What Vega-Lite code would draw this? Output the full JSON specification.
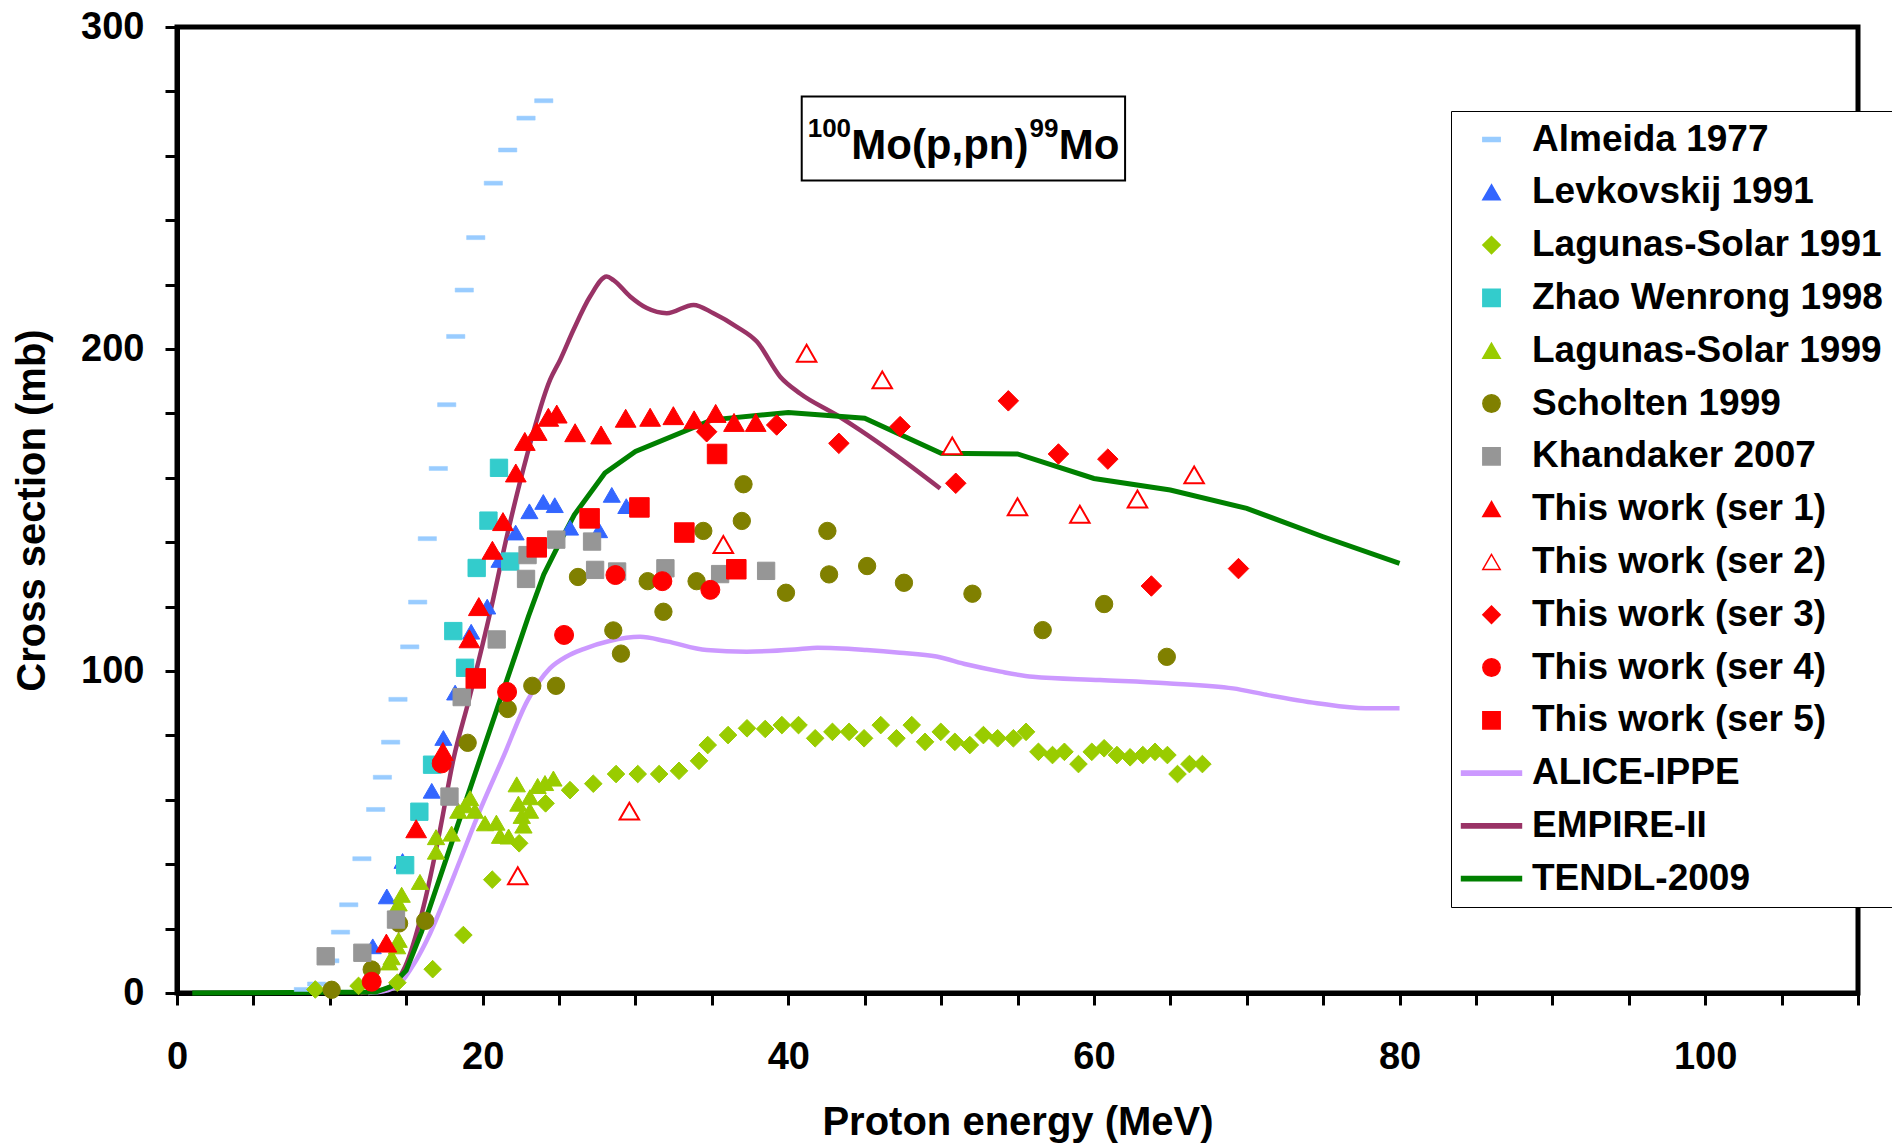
{
  "$schema": "https://vega.github.io/schema/vega-lite/v6.json",
  "width": 1681,
  "height": 966,
  "autosize": {"type": "none"},
  "padding": {"left": 177, "top": 27, "right": 34, "bottom": 154},
  "background": "white",
  "config": {
    "font": "Liberation Sans",
    "view": {"stroke": "black", "strokeWidth": 5},
    "axis": {
      "grid": false,
      "domainColor": "black",
      "domainWidth": 5,
      "tickColor": "black",
      "tickWidth": 3,
      "tickSize": 12,
      "labelFont": "Liberation Sans",
      "labelFontWeight": "bold",
      "labelFontSize": 38,
      "labelColor": "black",
      "labelFlush": false,
      "labelOverlap": false,
      "titleFont": "Liberation Sans",
      "titleFontWeight": "bold",
      "titleFontSize": 40,
      "titleColor": "black"
    }
  },
  "datasets": {
    "main": [
      {"s":"Almeida 1977","e":24.0,"xs":277.1},{"s":"Almeida 1977","e":22.84,"xs":271.7},{"s":"Almeida 1977","e":21.64,"xs":261.8},{"s":"Almeida 1977","e":20.7,"xs":251.5},{"s":"Almeida 1977","e":19.55,"xs":234.6},{"s":"Almeida 1977","e":18.8,"xs":218.3},{"s":"Almeida 1977","e":18.24,"xs":203.9},{"s":"Almeida 1977","e":17.65,"xs":182.7},{"s":"Almeida 1977","e":17.1,"xs":162.9},{"s":"Almeida 1977","e":16.38,"xs":141.1},{"s":"Almeida 1977","e":15.75,"xs":121.4},{"s":"Almeida 1977","e":15.23,"xs":107.5},{"s":"Almeida 1977","e":14.46,"xs":91.2},{"s":"Almeida 1977","e":13.98,"xs":77.9},{"s":"Almeida 1977","e":13.44,"xs":67.0},{"s":"Almeida 1977","e":13.0,"xs":57.0},{"s":"Almeida 1977","e":12.1,"xs":41.7},{"s":"Almeida 1977","e":11.24,"xs":27.4},{"s":"Almeida 1977","e":10.7,"xs":18.9},{"s":"Almeida 1977","e":10.0,"xs":10.0},{"s":"Almeida 1977","e":9.14,"xs":2.8},{"s":"Almeida 1977","e":8.27,"xs":1.1},
      {"s":"Levkovskij 1991","e":12.81,"xs":14.5},{"s":"Levkovskij 1991","e":13.73,"xs":30},{"s":"Levkovskij 1991","e":14.76,"xs":41},{"s":"Levkovskij 1991","e":16.67,"xs":62.8},{"s":"Levkovskij 1991","e":17.43,"xs":79.2},{"s":"Levkovskij 1991","e":18.2,"xs":93.3},{"s":"Levkovskij 1991","e":19.25,"xs":112.2},{"s":"Levkovskij 1991","e":20.3,"xs":120},{"s":"Levkovskij 1991","e":21.1,"xs":134.5},{"s":"Levkovskij 1991","e":22.16,"xs":143},{"s":"Levkovskij 1991","e":23.06,"xs":149.6},{"s":"Levkovskij 1991","e":23.97,"xs":152.5},{"s":"Levkovskij 1991","e":24.72,"xs":151.5},{"s":"Levkovskij 1991","e":25.72,"xs":144.5},{"s":"Levkovskij 1991","e":27.62,"xs":143.7},{"s":"Levkovskij 1991","e":28.45,"xs":154.7},{"s":"Levkovskij 1991","e":29.4,"xs":151.2},
      {"s":"Lagunas-Solar 1991","e":9.05,"xs":1.1},{"s":"Lagunas-Solar 1991","e":11.88,"xs":2.2},{"s":"Lagunas-Solar 1991","e":14.42,"xs":3.2},{"s":"Lagunas-Solar 1991","e":16.73,"xs":7.4},{"s":"Lagunas-Solar 1991","e":18.74,"xs":18},{"s":"Lagunas-Solar 1991","e":20.63,"xs":35.2},{"s":"Lagunas-Solar 1991","e":22.39,"xs":46.5},{"s":"Lagunas-Solar 1991","e":24.12,"xs":58.9},{"s":"Lagunas-Solar 1991","e":25.72,"xs":63},{"s":"Lagunas-Solar 1991","e":27.24,"xs":65},{"s":"Lagunas-Solar 1991","e":28.73,"xs":68},{"s":"Lagunas-Solar 1991","e":30.15,"xs":68},{"s":"Lagunas-Solar 1991","e":31.55,"xs":68},{"s":"Lagunas-Solar 1991","e":32.85,"xs":69},{"s":"Lagunas-Solar 1991","e":34.16,"xs":72.1},{"s":"Lagunas-Solar 1991","e":34.73,"xs":77},{"s":"Lagunas-Solar 1991","e":36.06,"xs":80.1},{"s":"Lagunas-Solar 1991","e":37.3,"xs":82.2},{"s":"Lagunas-Solar 1991","e":38.49,"xs":82},{"s":"Lagunas-Solar 1991","e":39.58,"xs":83.2},{"s":"Lagunas-Solar 1991","e":40.67,"xs":83.2},{"s":"Lagunas-Solar 1991","e":41.76,"xs":79.1},{"s":"Lagunas-Solar 1991","e":42.89,"xs":81.1},{"s":"Lagunas-Solar 1991","e":43.98,"xs":81.1},{"s":"Lagunas-Solar 1991","e":44.96,"xs":79.1},{"s":"Lagunas-Solar 1991","e":46.05,"xs":83.2},{"s":"Lagunas-Solar 1991","e":47.08,"xs":79.1},{"s":"Lagunas-Solar 1991","e":48.08,"xs":83.2},{"s":"Lagunas-Solar 1991","e":48.95,"xs":78},{"s":"Lagunas-Solar 1991","e":49.98,"xs":81.1},{"s":"Lagunas-Solar 1991","e":50.9,"xs":78},{"s":"Lagunas-Solar 1991","e":51.88,"xs":77},{"s":"Lagunas-Solar 1991","e":52.77,"xs":80.1},{"s":"Lagunas-Solar 1991","e":53.7,"xs":79.1},{"s":"Lagunas-Solar 1991","e":54.73,"xs":79.1},{"s":"Lagunas-Solar 1991","e":55.56,"xs":81.1},{"s":"Lagunas-Solar 1991","e":56.37,"xs":74.9},{"s":"Lagunas-Solar 1991","e":57.29,"xs":73.9},{"s":"Lagunas-Solar 1991","e":58.07,"xs":74.9},{"s":"Lagunas-Solar 1991","e":58.99,"xs":71.1},{"s":"Lagunas-Solar 1991","e":59.86,"xs":74.9},{"s":"Lagunas-Solar 1991","e":60.67,"xs":76},{"s":"Lagunas-Solar 1991","e":61.51,"xs":73.9},{"s":"Lagunas-Solar 1991","e":62.37,"xs":73.2},{"s":"Lagunas-Solar 1991","e":63.2,"xs":73.9},{"s":"Lagunas-Solar 1991","e":64.0,"xs":74.9},{"s":"Lagunas-Solar 1991","e":64.81,"xs":73.9},{"s":"Lagunas-Solar 1991","e":65.47,"xs":68},{"s":"Lagunas-Solar 1991","e":66.25,"xs":71.1},{"s":"Lagunas-Solar 1991","e":67.1,"xs":71.1},
      {"s":"Zhao Wenrong 1998","e":14.93,"xs":39.7},{"s":"Zhao Wenrong 1998","e":15.86,"xs":56.3},{"s":"Zhao Wenrong 1998","e":16.69,"xs":70.9},{"s":"Zhao Wenrong 1998","e":18.08,"xs":112.4},{"s":"Zhao Wenrong 1998","e":18.85,"xs":101},{"s":"Zhao Wenrong 1998","e":19.61,"xs":132},{"s":"Zhao Wenrong 1998","e":20.38,"xs":146.7},{"s":"Zhao Wenrong 1998","e":21.07,"xs":163.1},{"s":"Zhao Wenrong 1998","e":21.8,"xs":134},
      {"s":"Lagunas-Solar 1999","e":13.9,"xs":9.5},{"s":"Lagunas-Solar 1999","e":14.05,"xs":11.1},{"s":"Lagunas-Solar 1999","e":14.4,"xs":14.5},{"s":"Lagunas-Solar 1999","e":14.5,"xs":16.5},{"s":"Lagunas-Solar 1999","e":14.5,"xs":27.8},{"s":"Lagunas-Solar 1999","e":14.7,"xs":30.5},{"s":"Lagunas-Solar 1999","e":15.9,"xs":34.5},{"s":"Lagunas-Solar 1999","e":16.95,"xs":43.9},{"s":"Lagunas-Solar 1999","e":16.95,"xs":48.4},{"s":"Lagunas-Solar 1999","e":17.97,"xs":49.5},{"s":"Lagunas-Solar 1999","e":18.41,"xs":56.6},{"s":"Lagunas-Solar 1999","e":18.85,"xs":58.3},{"s":"Lagunas-Solar 1999","e":19.18,"xs":60.5},{"s":"Lagunas-Solar 1999","e":19.5,"xs":56.6},{"s":"Lagunas-Solar 1999","e":20.16,"xs":52.7},{"s":"Lagunas-Solar 1999","e":20.9,"xs":52.9},{"s":"Lagunas-Solar 1999","e":21.14,"xs":48.8},{"s":"Lagunas-Solar 1999","e":21.7,"xs":48.6},{"s":"Lagunas-Solar 1999","e":22.23,"xs":64.8},{"s":"Lagunas-Solar 1999","e":22.34,"xs":58.8},{"s":"Lagunas-Solar 1999","e":22.56,"xs":55},{"s":"Lagunas-Solar 1999","e":22.67,"xs":52},{"s":"Lagunas-Solar 1999","e":23.1,"xs":60.8},{"s":"Lagunas-Solar 1999","e":23.1,"xs":56.6},{"s":"Lagunas-Solar 1999","e":23.6,"xs":64.3},{"s":"Lagunas-Solar 1999","e":24.08,"xs":65.2},{"s":"Lagunas-Solar 1999","e":24.63,"xs":66.6},
      {"s":"Scholten 1999","e":10.12,"xs":1},{"s":"Scholten 1999","e":12.74,"xs":7.3},{"s":"Scholten 1999","e":14.53,"xs":21.6},{"s":"Scholten 1999","e":16.24,"xs":22.4},{"s":"Scholten 1999","e":19.02,"xs":77.7},{"s":"Scholten 1999","e":21.64,"xs":88.2},{"s":"Scholten 1999","e":23.25,"xs":95.4},{"s":"Scholten 1999","e":24.8,"xs":95.4},{"s":"Scholten 1999","e":26.24,"xs":129.2},{"s":"Scholten 1999","e":28.55,"xs":112.6},{"s":"Scholten 1999","e":29.05,"xs":105.4},{"s":"Scholten 1999","e":30.8,"xs":127.9},{"s":"Scholten 1999","e":31.83,"xs":118.4},{"s":"Scholten 1999","e":34.0,"xs":127.9},{"s":"Scholten 1999","e":34.44,"xs":143.5},{"s":"Scholten 1999","e":36.96,"xs":146.6},{"s":"Scholten 1999","e":37.07,"xs":158},{"s":"Scholten 1999","e":39.85,"xs":124.3},{"s":"Scholten 1999","e":42.56,"xs":143.5},{"s":"Scholten 1999","e":42.67,"xs":130},{"s":"Scholten 1999","e":45.16,"xs":132.6},{"s":"Scholten 1999","e":47.57,"xs":127.4},{"s":"Scholten 1999","e":52.05,"xs":124},{"s":"Scholten 1999","e":56.65,"xs":112.7},{"s":"Scholten 1999","e":60.67,"xs":120.8},{"s":"Scholten 1999","e":64.77,"xs":104.4},
      {"s":"Khandaker 2007","e":9.73,"xs":11.4},{"s":"Khandaker 2007","e":12.13,"xs":12.5},{"s":"Khandaker 2007","e":14.33,"xs":22.8},{"s":"Khandaker 2007","e":17.83,"xs":61},{"s":"Khandaker 2007","e":18.63,"xs":91.9},{"s":"Khandaker 2007","e":20.92,"xs":109.8},{"s":"Khandaker 2007","e":22.84,"xs":128.6},{"s":"Khandaker 2007","e":22.94,"xs":136},{"s":"Khandaker 2007","e":24.82,"xs":140.8},{"s":"Khandaker 2007","e":27.16,"xs":140.2},{"s":"Khandaker 2007","e":27.36,"xs":131.4},{"s":"Khandaker 2007","e":28.8,"xs":130.9},{"s":"Khandaker 2007","e":31.96,"xs":131.9},{"s":"Khandaker 2007","e":35.54,"xs":130.1},{"s":"Khandaker 2007","e":38.55,"xs":131.1},
      {"s":"This work (ser 1)","e":13.7,"xs":15.5},{"s":"This work (ser 1)","e":15.65,"xs":51},{"s":"This work (ser 1)","e":17.4,"xs":75},{"s":"This work (ser 1)","e":19.13,"xs":110},{"s":"This work (ser 1)","e":19.75,"xs":120},{"s":"This work (ser 1)","e":20.64,"xs":137.5},{"s":"This work (ser 1)","e":21.33,"xs":146.4},{"s":"This work (ser 1)","e":22.17,"xs":161.5},{"s":"This work (ser 1)","e":22.76,"xs":171.3},{"s":"This work (ser 1)","e":23.54,"xs":174.4},{"s":"This work (ser 1)","e":24.3,"xs":178.8},{"s":"This work (ser 1)","e":24.85,"xs":179.8},{"s":"This work (ser 1)","e":26.05,"xs":174},{"s":"This work (ser 1)","e":27.75,"xs":173.3},{"s":"This work (ser 1)","e":29.36,"xs":178.5},{"s":"This work (ser 1)","e":30.96,"xs":178.8},{"s":"This work (ser 1)","e":32.48,"xs":179.3},{"s":"This work (ser 1)","e":33.84,"xs":178},{"s":"This work (ser 1)","e":35.25,"xs":180},{"s":"This work (ser 1)","e":36.45,"xs":177.2},{"s":"This work (ser 1)","e":37.87,"xs":177.2},
      {"s":"This work (ser 2)","e":22.3,"xs":36.4},{"s":"This work (ser 2)","e":29.6,"xs":56.5},{"s":"This work (ser 2)","e":35.75,"xs":139.3},{"s":"This work (ser 2)","e":41.2,"xs":198.7},{"s":"This work (ser 2)","e":46.15,"xs":190.4},{"s":"This work (ser 2)","e":50.73,"xs":169.9},{"s":"This work (ser 2)","e":55.0,"xs":151},{"s":"This work (ser 2)","e":59.08,"xs":148.7},{"s":"This work (ser 2)","e":62.85,"xs":153.4},{"s":"This work (ser 2)","e":66.56,"xs":160.9},
      {"s":"This work (ser 3)","e":34.66,"xs":174.3},{"s":"This work (ser 3)","e":39.24,"xs":176.4},{"s":"This work (ser 3)","e":43.31,"xs":170.7},{"s":"This work (ser 3)","e":47.32,"xs":175.9},{"s":"This work (ser 3)","e":50.96,"xs":158.3},{"s":"This work (ser 3)","e":54.4,"xs":183.9},{"s":"This work (ser 3)","e":57.68,"xs":167.4},{"s":"This work (ser 3)","e":60.91,"xs":165.8},{"s":"This work (ser 3)","e":63.76,"xs":126.4},{"s":"This work (ser 3)","e":69.46,"xs":131.8},
      {"s":"This work (ser 4)","e":12.74,"xs":3.5},{"s":"This work (ser 4)","e":17.32,"xs":71.3},{"s":"This work (ser 4)","e":21.6,"xs":93.5},{"s":"This work (ser 4)","e":25.33,"xs":111.2},{"s":"This work (ser 4)","e":28.69,"xs":129.8},{"s":"This work (ser 4)","e":31.76,"xs":127.9},{"s":"This work (ser 4)","e":34.9,"xs":125.2},
      {"s":"This work (ser 5)","e":19.55,"xs":97.7},{"s":"This work (ser 5)","e":23.54,"xs":138.4},{"s":"This work (ser 5)","e":27.0,"xs":147.4},{"s":"This work (ser 5)","e":30.26,"xs":150.8},{"s":"This work (ser 5)","e":33.2,"xs":143.0},{"s":"This work (ser 5)","e":35.34,"xs":167.4},{"s":"This work (ser 5)","e":36.6,"xs":131.6},
      {"s":"ALICE-IPPE","e":12.5,"xs":0},{"s":"ALICE-IPPE","e":13.5,"xs":0.5},{"s":"ALICE-IPPE","e":14.6,"xs":3},{"s":"ALICE-IPPE","e":15.5,"xs":9},{"s":"ALICE-IPPE","e":16.56,"xs":18.5},{"s":"ALICE-IPPE","e":17.5,"xs":29},{"s":"ALICE-IPPE","e":18.53,"xs":41.3},{"s":"ALICE-IPPE","e":19.83,"xs":56.8},{"s":"ALICE-IPPE","e":21.36,"xs":73.4},{"s":"ALICE-IPPE","e":22.9,"xs":90.5},{"s":"ALICE-IPPE","e":24.4,"xs":100.8},{"s":"ALICE-IPPE","e":25.5,"xs":104.5},{"s":"ALICE-IPPE","e":26.6,"xs":106.8},{"s":"ALICE-IPPE","e":28.3,"xs":109.3},{"s":"ALICE-IPPE","e":30.3,"xs":110.6},{"s":"ALICE-IPPE","e":32.05,"xs":109.2},{"s":"ALICE-IPPE","e":34.66,"xs":106.5},{"s":"ALICE-IPPE","e":37.28,"xs":106},{"s":"ALICE-IPPE","e":40.77,"xs":106.8},{"s":"ALICE-IPPE","e":41.9,"xs":107.2},{"s":"ALICE-IPPE","e":45.13,"xs":106.5},{"s":"ALICE-IPPE","e":47.3,"xs":105.7},{"s":"ALICE-IPPE","e":49.7,"xs":104.5},{"s":"ALICE-IPPE","e":51.7,"xs":102},{"s":"ALICE-IPPE","e":53.9,"xs":99.8},{"s":"ALICE-IPPE","e":56,"xs":98.2},{"s":"ALICE-IPPE","e":60.4,"xs":97.2},{"s":"ALICE-IPPE","e":64.77,"xs":96.2},{"s":"ALICE-IPPE","e":69.1,"xs":94.6},{"s":"ALICE-IPPE","e":71.3,"xs":92.6},{"s":"ALICE-IPPE","e":74.6,"xs":90},{"s":"ALICE-IPPE","e":77.8,"xs":88.4},{"s":"ALICE-IPPE","e":80,"xs":88.4},
      {"s":"EMPIRE-II","e":12,"xs":0},{"s":"EMPIRE-II","e":13,"xs":0.6},{"s":"EMPIRE-II","e":13.9,"xs":1.8},{"s":"EMPIRE-II","e":14.93,"xs":8.2},{"s":"EMPIRE-II","e":16.13,"xs":26.8},{"s":"EMPIRE-II","e":17.21,"xs":50.6},{"s":"EMPIRE-II","e":18.08,"xs":72.4},{"s":"EMPIRE-II","e":19.1,"xs":91},{"s":"EMPIRE-II","e":20.48,"xs":117.9},{"s":"EMPIRE-II","e":21.58,"xs":141.7},{"s":"EMPIRE-II","e":22.88,"xs":166.6},{"s":"EMPIRE-II","e":24.41,"xs":190.4},{"s":"EMPIRE-II","e":25.07,"xs":196.6},{"s":"EMPIRE-II","e":25.94,"xs":205.9},{"s":"EMPIRE-II","e":27.03,"xs":216.3},{"s":"EMPIRE-II","e":28.12,"xs":222.5},{"s":"EMPIRE-II","e":28.56,"xs":221.4},{"s":"EMPIRE-II","e":29.65,"xs":216.3},{"s":"EMPIRE-II","e":30.74,"xs":212.7},{"s":"EMPIRE-II","e":32.05,"xs":211.1},{"s":"EMPIRE-II","e":33.8,"xs":213.7},{"s":"EMPIRE-II","e":35.1,"xs":211.1},{"s":"EMPIRE-II","e":36.63,"xs":206.9},{"s":"EMPIRE-II","e":37.94,"xs":202.3},{"s":"EMPIRE-II","e":39.47,"xs":191.4},{"s":"EMPIRE-II","e":40.77,"xs":186.2},{"s":"EMPIRE-II","e":43.17,"xs":179.5},{"s":"EMPIRE-II","e":44.7,"xs":174.8},{"s":"EMPIRE-II","e":46.88,"xs":167.6},{"s":"EMPIRE-II","e":49.94,"xs":156.7},
      {"s":"TENDL-2009","e":1,"xs":0},{"s":"TENDL-2009","e":13,"xs":0.3},{"s":"TENDL-2009","e":14,"xs":2},{"s":"TENDL-2009","e":15,"xs":7},{"s":"TENDL-2009","e":16,"xs":19},{"s":"TENDL-2009","e":17,"xs":33},{"s":"TENDL-2009","e":18,"xs":47},{"s":"TENDL-2009","e":19,"xs":61},{"s":"TENDL-2009","e":20,"xs":75},{"s":"TENDL-2009","e":21,"xs":89},{"s":"TENDL-2009","e":22,"xs":103},{"s":"TENDL-2009","e":23,"xs":117},{"s":"TENDL-2009","e":24,"xs":130},{"s":"TENDL-2009","e":25,"xs":139.5},{"s":"TENDL-2009","e":26,"xs":148.5},{"s":"TENDL-2009","e":28,"xs":161.5},{"s":"TENDL-2009","e":30,"xs":168.2},{"s":"TENDL-2009","e":35,"xs":178},{"s":"TENDL-2009","e":40,"xs":180.3},{"s":"TENDL-2009","e":45,"xs":178.5},{"s":"TENDL-2009","e":50,"xs":167.6},{"s":"TENDL-2009","e":55,"xs":167.4},{"s":"TENDL-2009","e":60,"xs":159.8},{"s":"TENDL-2009","e":65,"xs":156.2},{"s":"TENDL-2009","e":70,"xs":150.5},{"s":"TENDL-2009","e":75,"xs":141.7},{"s":"TENDL-2009","e":80,"xs":133.4}
    ],
    "ann": [
      {"kind":"sup","t":"100","e":41.27,"xs":265.8},
      {"kind":"big","t":"Mo(p,pn)","e":44.12,"xs":259.0},
      {"kind":"sup","t":"99","e":55.78,"xs":265.8},
      {"kind":"big","t":"Mo","e":57.7,"xs":259.0}
    ],
    "box": [{"e":40.88,"e2":62.04,"xs":252.3,"xs2":278.4}]
  },
  "encoding": {
    "x": {
      "field": "e", "type": "quantitative",
      "scale": {"domain": [0, 110], "nice": false, "zero": false},
      "axis": {
        "title": "Proton energy (MeV)",
        "values": [0,5,10,15,20,25,30,35,40,45,50,55,60,65,70,75,80,85,90,95,100,105,110],
        "labelExpr": "datum.value % 20 === 0 ? datum.label : ''",
        "labelPadding": 33,
        "titlePadding": 26
      }
    },
    "y": {
      "field": "xs", "type": "quantitative",
      "scale": {"domain": [0, 300], "nice": false},
      "axis": {
        "title": "Cross section (mb)",
        "values": [0,20,40,60,80,100,120,140,160,180,200,220,240,260,280,300],
        "labelExpr": "datum.value % 100 === 0 ? datum.label : ''",
        "labelPadding": 21,
        "titlePadding": 28
      }
    }
  },
  "layer": [
    {
      "data": {"name": "main"},
      "transform": [{"filter": {"field": "s", "equal": "ALICE-IPPE"}}],
      "mark": {"type": "line", "color": "#CC99FF", "strokeWidth": 4.5, "interpolate": "monotone"}
    },
    {
      "data": {"name": "main"},
      "transform": [{"filter": {"field": "s", "equal": "EMPIRE-II"}}],
      "mark": {"type": "line", "color": "#993366", "strokeWidth": 4.5, "interpolate": "monotone"}
    },
    {
      "data": {"name": "main"},
      "transform": [{"filter": {"field": "s", "equal": "TENDL-2009"}}],
      "mark": {"type": "line", "color": "#008000", "strokeWidth": 5}
    },
    {
      "data": {"name": "main"},
      "encoding": {
        "shape": {
          "field": "s", "type": "nominal",
          "scale": {
            "domain": ["Almeida 1977","Levkovskij 1991","Lagunas-Solar 1991","Zhao Wenrong 1998","Lagunas-Solar 1999","Scholten 1999","Khandaker 2007","This work (ser 1)","This work (ser 2)","This work (ser 3)","This work (ser 4)","This work (ser 5)","ALICE-IPPE","EMPIRE-II","TENDL-2009"],
            "range": ["M-1,-0.22H1V0.22H-1Z","triangle-up","diamond","square","triangle-up","circle","square","triangle-up","triangle-up","diamond","circle","square","M-3.46,-0.24H3.46V0.24H-3.46Z","M-3.46,-0.24H3.46V0.24H-3.46Z","M-3.46,-0.24H3.46V0.24H-3.46Z"]
          },
          "legend": {"title": null, "orient": "none", "legendX": 1274, "legendY": 84, "direction": "vertical", "padding": 10, "rowPadding": 14.8, "symbolOffset": 12, "labelOffset": 22, "labelLimit": 600, "strokeColor": "black", "fillColor": "white", "labelFont": "Liberation Sans", "labelFontSize": 37, "labelFontWeight": "bold", "labelColor": "black", "symbolSize": 300, "symbolStrokeWidth": 1.5}
        },
        "fill": {
          "field": "s", "type": "nominal",
          "scale": {
            "domain": ["Almeida 1977","Levkovskij 1991","Lagunas-Solar 1991","Zhao Wenrong 1998","Lagunas-Solar 1999","Scholten 1999","Khandaker 2007","This work (ser 1)","This work (ser 2)","This work (ser 3)","This work (ser 4)","This work (ser 5)","ALICE-IPPE","EMPIRE-II","TENDL-2009"],
            "range": ["#99CCFF","#3366FF","#99CC00","#33CCCC","#99CC00","#808000","#969696","#FF0000","#FFFFFF","#FF0000","#FF0000","#FF0000","#CC99FF","#993366","#008000"]
          },
          "legend": {"title": null, "orient": "none", "legendX": 1274, "legendY": 84, "direction": "vertical", "padding": 10, "rowPadding": 14.8, "symbolOffset": 12, "labelOffset": 22, "labelLimit": 600, "strokeColor": "black", "fillColor": "white", "labelFont": "Liberation Sans", "labelFontSize": 37, "labelFontWeight": "bold", "labelColor": "black", "symbolSize": 300, "symbolStrokeWidth": 1.5}
        },
        "stroke": {
          "field": "s", "type": "nominal",
          "scale": {
            "domain": ["Almeida 1977","Levkovskij 1991","Lagunas-Solar 1991","Zhao Wenrong 1998","Lagunas-Solar 1999","Scholten 1999","Khandaker 2007","This work (ser 1)","This work (ser 2)","This work (ser 3)","This work (ser 4)","This work (ser 5)","ALICE-IPPE","EMPIRE-II","TENDL-2009"],
            "range": ["#99CCFF","#3366FF","#99CC00","#33CCCC","#99CC00","#808000","#969696","#FF0000","#FF0000","#FF0000","#FF0000","#FF0000","#CC99FF","#993366","#008000"]
          },
          "legend": {"title": null, "orient": "none", "legendX": 1274, "legendY": 84, "direction": "vertical", "padding": 10, "rowPadding": 14.8, "symbolOffset": 12, "labelOffset": 22, "labelLimit": 600, "strokeColor": "black", "fillColor": "white", "labelFont": "Liberation Sans", "labelFontSize": 37, "labelFontWeight": "bold", "labelColor": "black", "symbolSize": 300, "symbolStrokeWidth": 1.5}
        }
      },
      "layer": [
        {"transform": [{"filter": {"field": "s", "equal": "Almeida 1977"}}], "mark": {"type": "point", "filled": true, "opacity": 1, "size": 335, "strokeWidth": 0.5}},
        {"transform": [{"filter": {"field": "s", "equal": "Levkovskij 1991"}}], "mark": {"type": "point", "filled": true, "opacity": 1, "size": 290, "strokeWidth": 1}},
        {"transform": [{"filter": {"field": "s", "equal": "Lagunas-Solar 1991"}}], "mark": {"type": "point", "filled": true, "opacity": 1, "size": 310, "strokeWidth": 1}},
        {"transform": [{"filter": {"field": "s", "equal": "Zhao Wenrong 1998"}}], "mark": {"type": "point", "filled": true, "opacity": 1, "size": 300, "strokeWidth": 1}},
        {"transform": [{"filter": {"field": "s", "equal": "Lagunas-Solar 1999"}}], "mark": {"type": "point", "filled": true, "opacity": 1, "size": 300, "strokeWidth": 1}},
        {"transform": [{"filter": {"field": "s", "equal": "Scholten 1999"}}], "mark": {"type": "point", "filled": true, "opacity": 1, "size": 300, "strokeWidth": 1}},
        {"transform": [{"filter": {"field": "s", "equal": "Khandaker 2007"}}], "mark": {"type": "point", "filled": true, "opacity": 1, "size": 300, "strokeWidth": 1}},
        {"transform": [{"filter": {"field": "s", "equal": "This work (ser 1)"}}], "mark": {"type": "point", "filled": true, "opacity": 1, "size": 430, "strokeWidth": 1}},
        {"transform": [{"filter": {"field": "s", "equal": "This work (ser 2)"}}], "mark": {"type": "point", "filled": true, "opacity": 1, "size": 380, "strokeWidth": 2}},
        {"transform": [{"filter": {"field": "s", "equal": "This work (ser 3)"}}], "mark": {"type": "point", "filled": true, "opacity": 1, "size": 420, "strokeWidth": 1}},
        {"transform": [{"filter": {"field": "s", "equal": "This work (ser 4)"}}], "mark": {"type": "point", "filled": true, "opacity": 1, "size": 360, "strokeWidth": 1}},
        {"transform": [{"filter": {"field": "s", "equal": "This work (ser 5)"}}], "mark": {"type": "point", "filled": true, "opacity": 1, "size": 380, "strokeWidth": 1}}
      ]
    },
    {
      "data": {"name": "box"},
      "mark": {"type": "rect", "fill": "white", "stroke": "black", "strokeWidth": 2},
      "encoding": {
        "x2": {"field": "e2"},
        "y2": {"field": "xs2"}
      }
    },
    {
      "data": {"name": "ann"},
      "transform": [{"filter": {"field": "kind", "equal": "big"}}],
      "mark": {"type": "text", "font": "Liberation Sans", "fontWeight": "bold", "fontSize": 42, "align": "left", "baseline": "alphabetic", "color": "black"},
      "encoding": {"text": {"field": "t"}}
    },
    {
      "data": {"name": "ann"},
      "transform": [{"filter": {"field": "kind", "equal": "sup"}}],
      "mark": {"type": "text", "font": "Liberation Sans", "fontWeight": "bold", "fontSize": 26, "align": "left", "baseline": "alphabetic", "color": "black"},
      "encoding": {"text": {"field": "t"}}
    }
  ]
}
